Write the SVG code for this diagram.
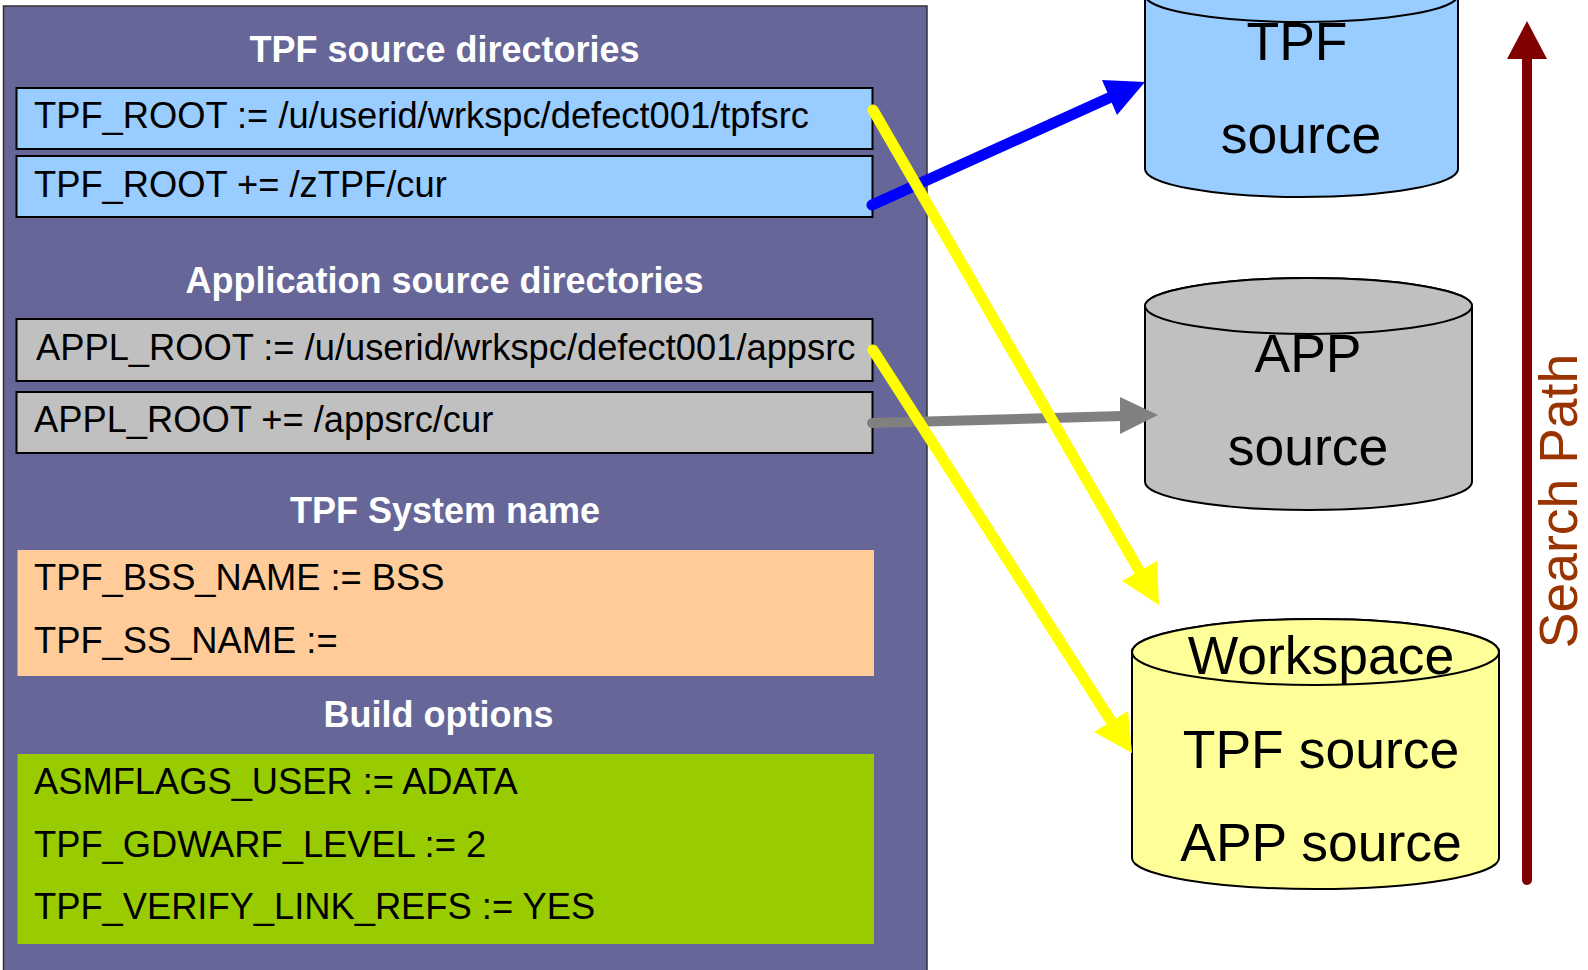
<svg xmlns="http://www.w3.org/2000/svg" width="1588" height="970" viewBox="0 0 1588 970">
<style>
.hd{font-family:"Liberation Sans",Arial,sans-serif;font-weight:bold;font-size:36px;fill:#ffffff;text-anchor:middle}
.tx{font-family:"Liberation Sans",Arial,sans-serif;font-size:36.3px;fill:#000000}
.cy{font-family:"Liberation Sans",Arial,sans-serif;font-size:53.5px;fill:#000000;text-anchor:middle}
.bx{stroke:#000000;stroke-width:2}
.cyl{stroke:#000000;stroke-width:2}
</style>
<rect width="1588" height="970" fill="#ffffff"/>
<g id="panel">
<rect x="3.5" y="6" width="923.5" height="972" fill="#666699" stroke="#333333" stroke-width="1.5"/>
<text class="hd" x="444.5" y="62">TPF source directories</text>
<text class="hd" x="444.5" y="293">Application source directories</text>
<text class="hd" x="445" y="523">TPF System name</text>
<text class="hd" x="438.5" y="727">Build options</text>
</g>
<g id="tpf-root-1">
<rect class="bx" x="16.5" y="88" width="856" height="61" fill="#99ccff"/>
<text class="tx" x="34" y="128">TPF_ROOT := /u/userid/wrkspc/defect001/tpfsrc</text>
</g>
<g id="tpf-root-2">
<rect class="bx" x="16.5" y="156" width="856" height="61" fill="#99ccff"/>
<text class="tx" x="34" y="197">TPF_ROOT += /zTPF/cur</text>
</g>
<g id="appl-root-1">
<rect class="bx" x="16.5" y="319" width="856" height="62" fill="#c0c0c0"/>
<text class="tx" x="36" y="360">APPL_ROOT := /u/userid/wrkspc/defect001/appsrc</text>
</g>
<g id="appl-root-2">
<rect class="bx" x="16.5" y="392" width="856" height="61" fill="#c0c0c0"/>
<text class="tx" x="34" y="432">APPL_ROOT += /appsrc/cur</text>
</g>
<g id="system-name">
<rect x="17.5" y="550" width="856.5" height="126" fill="#ffcc99"/>
<text class="tx" x="34" y="590">TPF_BSS_NAME := BSS</text>
<text class="tx" x="34" y="653">TPF_SS_NAME :=</text>
</g>
<g id="build-options">
<rect x="17.5" y="754" width="856.5" height="190" fill="#99cc00"/>
<text class="tx" x="34" y="794">ASMFLAGS_USER := ADATA</text>
<text class="tx" x="34" y="857">TPF_GDWARF_LEVEL := 2</text>
<text class="tx" x="34" y="919">TPF_VERIFY_LINK_REFS := YES</text>
</g>
<g id="tpf-source">
<path class="cyl" fill="#99ccff" d="M1145,-5 V169 A156.5,28 0 0 0 1458,169 V-5 A156.5,27 0 0 0 1145,-5 Z"/>
<ellipse class="cyl" fill="#99ccff" cx="1301.5" cy="-5" rx="156.5" ry="27"/>
<text class="cy" x="1297" y="60">TPF</text>
<text class="cy" x="1301" y="153">source</text>
</g>
<g id="app-source">
<path class="cyl" fill="#c0c0c0" d="M1145,306 V482 A163.5,28 0 0 0 1472,482 V306 A163.5,28 0 0 0 1145,306 Z"/>
<ellipse class="cyl" fill="#c0c0c0" cx="1308.5" cy="306" rx="163.5" ry="28"/>
<text class="cy" x="1308" y="372">APP</text>
<text class="cy" x="1308" y="465">source</text>
</g>
<g id="workspace">
<path class="cyl" fill="#ffff99" d="M1132,652 V858 A183.5,31 0 0 0 1499,858 V652 A183.5,33 0 0 0 1132,652 Z"/>
<ellipse class="cyl" fill="#ffff99" cx="1315.5" cy="652" rx="183.5" ry="33"/>
<text class="cy" x="1321" y="674">Workspace</text>
<text class="cy" x="1321" y="768">TPF source</text>
<text class="cy" x="1321" y="861">APP source</text>
</g>
<g id="search-path">
<line x1="1527" y1="880" x2="1527" y2="56" stroke="#800000" stroke-width="10" stroke-linecap="round"/>
<polygon points="1527,21 1507,59 1547,59" fill="#800000"/>
<text class="cy" transform="translate(1577,501) rotate(-90)" style="fill:#993300">Search Path</text>
</g>
<g id="connectors">
<line x1="872" y1="205" x2="1111" y2="97" stroke="#0000ff" stroke-width="11" stroke-linecap="round"/>
<polygon points="1145,82 1102,80 1117,115" fill="#0000ff"/>
<line x1="872" y1="423" x2="1122" y2="416" stroke="#808080" stroke-width="10" stroke-linecap="round"/>
<polygon points="1158,415 1120,397 1120,434" fill="#808080"/>
<line x1="873" y1="110" x2="1140" y2="572" stroke="#ffff00" stroke-width="11" stroke-linecap="round"/>
<polygon points="1159,605 1122,581 1157,561" fill="#ffff00"/>
<line x1="873" y1="350" x2="1111" y2="721" stroke="#ffff00" stroke-width="11" stroke-linecap="round"/>
<polygon points="1132,753 1094,732 1128,711" fill="#ffff00"/>
</g>
</svg>
